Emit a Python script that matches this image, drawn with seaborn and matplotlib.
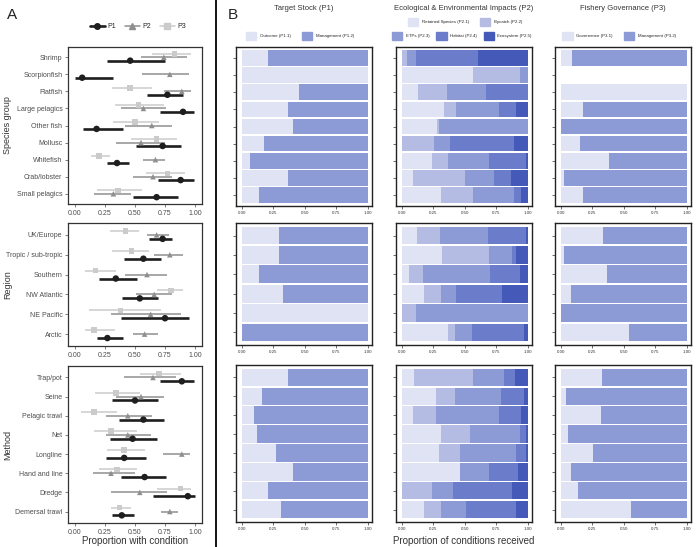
import numpy as np
import pandas as pd
import matplotlib
matplotlib.use("Agg")
import matplotlib.pyplot as plt
import seaborn as sns
from matplotlib.lines import Line2D
from matplotlib.patches import Patch

nan = np.nan

# ---- Panel A data: proportion with condition (estimate, lower, upper) ----
species = ["Shrimp", "Scorpionfish", "Flatfish", "Large pelagics", "Other fish",
           "Mollusc", "Whitefish", "Crab/lobster", "Small pelagics"]
sp_p1 = [0.46, 0.06, 0.77, 0.90, 0.18, 0.73, 0.35, 0.88, 0.68]
sp_p1_lo = [0.27, 0.00, 0.60, 0.71, 0.07, 0.51, 0.27, 0.69, 0.48]
sp_p1_hi = [0.75, 0.32, 0.90, 0.99, 0.40, 0.88, 0.45, 0.99, 0.86]
sp_p2 = [0.74, 0.79, 0.89, 0.57, 0.64, 0.55, 0.67, 0.65, 0.32]
sp_p2_lo = [0.55, 0.56, 0.74, 0.38, 0.42, 0.34, 0.57, 0.48, 0.16]
sp_p2_hi = [0.93, 0.95, 0.97, 0.76, 0.81, 0.75, 0.75, 0.81, 0.47]
sp_p3 = [0.83, nan, 0.46, 0.53, 0.50, 0.68, 0.20, 0.77, 0.36]
sp_p3_lo = [0.64, nan, 0.31, 0.33, 0.32, 0.47, 0.13, 0.59, 0.18]
sp_p3_hi = [0.97, nan, 0.64, 0.74, 0.70, 0.85, 0.29, 0.92, 0.56]

regions = ["UK/Europe", "Tropic / sub-tropic", "Southern", "NW Atlantic", "NE Pacific", "Arctic"]
rg_p1 = [0.73, 0.57, 0.34, 0.54, 0.75, 0.27]
rg_p1_lo = [0.62, 0.41, 0.20, 0.39, 0.38, 0.18]
rg_p1_hi = [0.81, 0.72, 0.52, 0.69, 0.95, 0.40]
rg_p2 = [0.68, 0.79, 0.60, 0.66, 0.63, 0.58]
rg_p2_lo = [0.60, 0.66, 0.42, 0.51, 0.30, 0.48]
rg_p2_hi = [0.78, 0.90, 0.77, 0.81, 0.88, 0.69]
rg_p3 = [0.42, 0.47, 0.17, 0.80, 0.38, 0.16]
rg_p3_lo = [0.29, 0.31, 0.08, 0.68, 0.12, 0.08]
rg_p3_hi = [0.53, 0.62, 0.34, 0.90, 0.72, 0.33]

methods = ["Trap/pot", "Seine", "Pelagic trawl", "Net", "Longline", "Hand and line",
           "Dredge", "Demersal trawl"]
mt_p1 = [0.89, 0.50, 0.57, 0.48, 0.41, 0.58, 0.94, 0.39]
mt_p1_lo = [0.71, 0.31, 0.37, 0.29, 0.26, 0.38, 0.65, 0.31]
mt_p1_hi = [0.99, 0.69, 0.74, 0.68, 0.59, 0.76, 1.00, 0.49]
mt_p2 = [0.65, 0.55, 0.44, 0.44, 0.89, 0.30, 0.54, 0.79]
mt_p2_lo = [0.41, 0.34, 0.26, 0.26, 0.73, 0.15, 0.30, 0.72]
mt_p2_hi = [0.84, 0.74, 0.64, 0.63, 0.96, 0.50, 0.77, 0.86]
mt_p3 = [0.70, 0.34, 0.16, 0.30, 0.41, 0.35, 0.88, 0.37]
mt_p3_lo = [0.54, 0.17, 0.05, 0.16, 0.27, 0.20, 0.68, 0.30]
mt_p3_hi = [0.88, 0.54, 0.35, 0.52, 0.58, 0.52, 0.97, 0.47]

# ---- Panel B data: proportion of conditions received ----
sp_b1_out = [0.21, 1.00, 0.455, 0.365, 0.405, 0.18, 0.07, 0.37, 0.14]
sp_b1_man = [0.79, 0.00, 0.545, 0.635, 0.595, 0.82, 0.93, 0.63, 0.86]
sp_b2_1 = [0.00, 0.57, 0.13, 0.34, 0.28, 0.00, 0.24, 0.09, 0.31]
sp_b2_2 = [0.04, 0.37, 0.23, 0.09, 0.02, 0.26, 0.13, 0.41, 0.26]
sp_b2_3 = [0.07, 0.06, 0.31, 0.34, 0.70, 0.12, 0.32, 0.23, 0.32]
sp_b2_4 = [0.50, 0.00, 0.33, 0.14, 0.00, 0.51, 0.30, 0.14, 0.06]
sp_b2_5 = [0.39, 0.00, 0.00, 0.09, 0.00, 0.11, 0.01, 0.13, 0.05]
sp_b3_gov = [0.09, nan, 1.00, 0.18, 0.00, 0.15, 0.38, 0.03, 0.18]
sp_b3_man = [0.91, nan, 0.00, 0.82, 1.00, 0.85, 0.62, 0.97, 0.82]

rg_b1_out = [0.30, 0.30, 0.14, 0.33, 1.00, 0.00]
rg_b1_man = [0.70, 0.70, 0.86, 0.67, 0.00, 1.00]
rg_b2_1 = [0.125, 0.32, 0.06, 0.18, 0.00, 0.37]
rg_b2_2 = [0.18, 0.37, 0.11, 0.13, 0.11, 0.05]
rg_b2_3 = [0.38, 0.19, 0.53, 0.12, 0.89, 0.14]
rg_b2_4 = [0.30, 0.03, 0.24, 0.37, 0.00, 0.41]
rg_b2_5 = [0.015, 0.09, 0.06, 0.20, 0.00, 0.03]
rg_b3_gov = [0.34, 0.03, 0.37, 0.08, 0.00, 0.54]
rg_b3_man = [0.66, 0.97, 0.63, 0.92, 1.00, 0.46]

mt_b1_out = [0.37, 0.16, 0.10, 0.125, 0.27, 0.41, 0.21, 0.31]
mt_b1_man = [0.63, 0.84, 0.90, 0.875, 0.73, 0.59, 0.79, 0.69]
mt_b2_1 = [0.10, 0.27, 0.09, 0.31, 0.30, 0.46, 0.00, 0.18]
mt_b2_2 = [0.47, 0.15, 0.18, 0.23, 0.16, 0.00, 0.24, 0.13]
mt_b2_3 = [0.24, 0.37, 0.50, 0.40, 0.45, 0.23, 0.17, 0.20]
mt_b2_4 = [0.09, 0.18, 0.18, 0.05, 0.08, 0.23, 0.47, 0.40]
mt_b2_5 = [0.10, 0.03, 0.05, 0.01, 0.01, 0.08, 0.12, 0.09]
mt_b3_gov = [0.33, 0.04, 0.32, 0.06, 0.26, 0.08, 0.14, 0.56]
mt_b3_man = [0.67, 0.96, 0.68, 0.94, 0.74, 0.92, 0.86, 0.44]

sns.set_theme(style="white")
plt.rcParams["font.family"] = ["Liberation Sans", "DejaVu Sans"]

W, H = 698, 547
fig = plt.figure(figsize=(W / 100, H / 100), dpi=100)


def box(l, t, r, b):
    return fig.add_axes([l / W, 1 - b / H, (r - l) / W, (b - t) / H])


pcol = {"P1": "#1e1e1e", "P2": "#8f8f8f", "P3": "#cbcbcb"}
pmark = {"P1": "o", "P2": "^", "P3": "s"}
poff = {"P1": 0.2, "P2": 0.0, "P3": -0.2}
plw = {"P1": 1.9, "P2": 1.1, "P3": 1.1}
psize = {"P1": 22, "P2": 16, "P3": 16}
ticks = [0, 0.25, 0.5, 0.75, 1.0]
tick_lab = ["0.00", "0.25", "0.50", "0.75", "1.00"]


def panel_a(ax, cats, d):
    rows = []
    for p, (v, lo, hi) in d.items():
        for i, c in enumerate(cats):
            rows.append(dict(cat=c, P=p, val=v[i], lo=lo[i], hi=hi[i], y=i + poff[p]))
    df = pd.DataFrame(rows).dropna()
    for p in ["P3", "P2", "P1"]:
        s = df[df.P == p]
        ax.hlines(s.y, s.lo, s.hi, color=pcol[p], lw=plw[p], zorder=2)
        sns.scatterplot(data=s, x="val", y="y", color=pcol[p], marker=pmark[p],
                        s=psize[p], edgecolor="none", legend=False, ax=ax, zorder=3)
    ax.set_xlim(-0.058, 1.058)
    ax.set_ylim(len(cats) - 0.4, -0.6)
    ax.set_yticks(range(len(cats)))
    ax.set_yticklabels(cats)
    ax.set_xticks(ticks)
    ax.set_xticklabels(tick_lab)
    ax.set_xlabel("")
    ax.set_ylabel("")
    ax.tick_params(axis="both", labelsize=5, colors="#4d4d4d", length=2, width=0.5,
                   pad=2, left=True, bottom=True)
    for sp in ax.spines.values():
        sp.set_color("#333333")
        sp.set_linewidth(0.9)


def panel_b(ax, cats, parts, colors):
    cum = np.cumsum(np.array(parts, dtype=float), axis=0)
    for k in reversed(range(len(parts))):
        sns.barplot(x=cum[k], y=cats, order=cats, orient="h", color=colors[k],
                    saturation=1, width=0.92, errorbar=None, linewidth=0, ax=ax)
    ax.set_xlim(-0.045, 1.035)
    ax.set_ylim(len(cats) - 0.35, -0.65)
    ax.set_xticks(ticks)
    ax.set_xticklabels(tick_lab)
    ax.set_yticks(range(len(cats)))
    ax.set_yticklabels([])
    ax.set_xlabel("")
    ax.set_ylabel("")
    ax.tick_params(axis="both", labelsize=3.2, colors="#333333", length=2, width=0.5,
                   pad=1.5, left=True, bottom=True)
    for sp in ax.spines.values():
        sp.set_color("#222222")
        sp.set_linewidth(1.0)


light = "#dfe3f3"
mgmt = "#8c9ad5"
p2cols = ["#dfe3f3", "#b4bce4", "#8c9ad5", "#6b7dca", "#4459b8"]

# Panel A
ax = box(68, 47, 202, 204)
panel_a(ax, species, {"P1": (sp_p1, sp_p1_lo, sp_p1_hi),
                      "P2": (sp_p2, sp_p2_lo, sp_p2_hi),
                      "P3": (sp_p3, sp_p3_lo, sp_p3_hi)})
ax = box(68, 223, 202, 346)
panel_a(ax, regions, {"P1": (rg_p1, rg_p1_lo, rg_p1_hi),
                      "P2": (rg_p2, rg_p2_lo, rg_p2_hi),
                      "P3": (rg_p3, rg_p3_lo, rg_p3_hi)})
ax = box(68, 366, 202, 523)
panel_a(ax, methods, {"P1": (mt_p1, mt_p1_lo, mt_p1_hi),
                      "P2": (mt_p2, mt_p2_lo, mt_p2_hi),
                      "P3": (mt_p3, mt_p3_lo, mt_p3_hi)})

# Panel B
rows_px = [(47, 206), (223, 345), (365, 522)]
cols_px = [(236, 372), (396, 532), (555, 691)]
b_data = [
    (species, [sp_b1_out, sp_b1_man], [sp_b2_1, sp_b2_2, sp_b2_3, sp_b2_4, sp_b2_5], [sp_b3_gov, sp_b3_man]),
    (regions, [rg_b1_out, rg_b1_man], [rg_b2_1, rg_b2_2, rg_b2_3, rg_b2_4, rg_b2_5], [rg_b3_gov, rg_b3_man]),
    (methods, [mt_b1_out, mt_b1_man], [mt_b2_1, mt_b2_2, mt_b2_3, mt_b2_4, mt_b2_5], [mt_b3_gov, mt_b3_man]),
]
for (t, b), (cats, b1, b2, b3) in zip(rows_px, b_data):
    panel_b(box(cols_px[0][0], t, cols_px[0][1], b), cats, b1, [light, mgmt])
    panel_b(box(cols_px[1][0], t, cols_px[1][1], b), cats, b2, p2cols)
    panel_b(box(cols_px[2][0], t, cols_px[2][1], b), cats, b3, [light, mgmt])

# text
txt = dict(color="#333333", ha="center", va="center")
fig.text(12 / W, 1 - 15 / H, "A", fontsize=11, color="#222222", ha="center", va="center")
fig.text(233 / W, 1 - 15 / H, "B", fontsize=11, color="#222222", ha="center", va="center")
fig.text(304 / W, 1 - 9 / H, "Target Stock (P1)", fontsize=5.5, **txt)
fig.text(464 / W, 1 - 9 / H, "Ecological & Environmental Impacts (P2)", fontsize=5.5, **txt)
fig.text(623 / W, 1 - 9 / H, "Fishery Governance (P3)", fontsize=5.5, **txt)
fig.text(135 / W, 1 - 541 / H, "Proportion with condition", fontsize=7, **txt)
fig.text(464 / W, 1 - 541 / H, "Proportion of conditions received", fontsize=7, **txt)
for lab, yc in [("Species group", 125), ("Region", 285), ("Method", 445)]:
    fig.text(8 / W, 1 - yc / H, lab, fontsize=6.5, rotation=90, **txt)

fig.add_artist(Line2D([216 / W, 216 / W], [0, 1], color="black", lw=1.3))

# legends
hA = [Line2D([], [], color=pcol[p], lw=plw[p], marker=pmark[p], markersize=4, label=p)
      for p in ["P1", "P2", "P3"]]
fig.legend(handles=hA, loc="center", bbox_to_anchor=(138 / W, 1 - 27 / H), ncol=3,
           frameon=False, fontsize=5, handlelength=2.2, columnspacing=1.2,
           handletextpad=0.4)

leg_kw = dict(loc="center", frameon=False, fontsize=3.2, handlelength=2.3,
              handleheight=2.3, handletextpad=0.8, columnspacing=2.5)
fig.legend(handles=[Patch(color=light, label="Outcome (P1.1)"),
                    Patch(color=mgmt, label="Management (P1.2)")],
           bbox_to_anchor=(300 / W, 1 - 36 / H), ncol=2, **leg_kw)
fig.legend(handles=[Patch(color=p2cols[0], label="Retained Species (P2.1)"),
                    Patch(color=p2cols[1], label="Bycatch (P2.2)")],
           bbox_to_anchor=(465 / W, 1 - 22 / H), ncol=2, **leg_kw)
fig.legend(handles=[Patch(color=p2cols[2], label="ETPs (P2.3)"),
                    Patch(color=p2cols[3], label="Habitat (P2.4)"),
                    Patch(color=p2cols[4], label="Ecosystem (P2.5)")],
           bbox_to_anchor=(462 / W, 1 - 36 / H), ncol=3,
           **{**leg_kw, "columnspacing": 1.5})
fig.legend(handles=[Patch(color=light, label="Governance (P3.1)"),
                    Patch(color=mgmt, label="Management (P3.2)")],
           bbox_to_anchor=(619 / W, 1 - 36 / H), ncol=2, **leg_kw)

fig.savefig("out.png", dpi=100)
